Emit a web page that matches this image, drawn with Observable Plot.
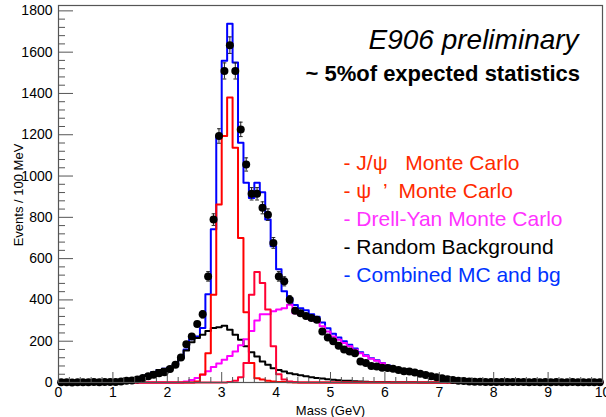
<!DOCTYPE html>
<html>
<head>
<meta charset="utf-8">
<script src="https://cdn.jsdelivr.net/npm/d3@7"></script>
<script src="https://cdn.jsdelivr.net/npm/@observablehq/plot@0.6"></script>
<style>
  body { margin: 0; background: #fff; }
  #chart svg { display: block; }
</style>
</head>
<body>
<div id="chart"></div>
<script>
// ---- Data: 100 bins of 100 MeV from 0 to 10 GeV ----
const binWidth = 0.1;

const dataCounts = [
  1,1,0,1,1,1,2,1,2,2,
  3,5,8,10,15,22,30,38,45,50,
  65,86,121,185,223,283,330,514,789,1194,
  1509,1634,1509,1226,1056,914,914,846,813,676,
  514,490,401,348,336,322,312,304,247,218,
  200,178,160,150,142,102,94,80,78,72,
  70,66,60,55,53,48,42,36,30,26,
  20,16,12,9,7,5,4,4,3,3,
  3,2,2,3,2,2,1,2,1,2,
  1,2,1,1,2,1,1,1,1,1
];

const dataErrors = [
  0,0,0,0,0,0,0,0,0,0,
  0,0,0,0,0,0,0,0,0,0,
  0,0,0,0,0,0,18,23,28,35,
  39,40,39,35,32,30,30,29,28,26,
  23,22,20,0,0,0,0,0,0,0,
  0,0,0,0,0,0,0,0,0,0,
  0,0,0,0,0,0,0,0,0,0,
  0,0,0,0,0,0,0,0,0,0,
  0,0,0,0,0,0,0,0,0,0,
  0,0,0,0,0,0,0,0,0,0
];

const jpsiMC = [
  null,null,null,null,null,0,0,0,0,0,
  0,0,0,0,0,0,0,0,0,0,
  0,0,0,0,0,5,39,142,425,862,
  1194,1380,1137,700,340,94,21,15,8,5,
  3,2,1,0,0,0,0,0,0,0,
  0,0,0,0,0,0,0,0,0,0,
  0,0,0,0,0,0,0,0,0,0,
  0,0,0,0,0,0,0,0,0,0,
  0,0,0,0,0,0,0,0,0,0,
  0,0,0,0,0,0,0,0,0,0
];

const psiPrimeMC = [
  null,null,null,null,null,0,0,0,0,0,
  0,0,0,0,0,0,0,0,0,0,
  0,0,0,0,0,0,0,0,0,0,
  0,2,8,25,94,425,535,482,353,175,
  40,15,5,2,0,0,0,0,0,0,
  0,0,0,0,0,0,0,0,0,0,
  0,0,0,0,0,0,0,0,0,0,
  0,0,0,0,0,0,0,0,0,0,
  0,0,0,0,0,0,0,0,0,0,
  0,0,0,0,0,0,0,0,0,0
];

const drellYanMC = [
  null,null,null,null,null,0,0,0,0,0,
  0,0,0,0,0,0,0,0,0,0,
  0,0,0,5,12,22,38,55,75,92,
  110,128,150,180,210,250,300,330,330,345,
  353,360,377,336,328,320,304,296,272,247,
  223,207,191,175,159,142,128,115,105,93,
  80,70,62,55,48,42,36,31,26,22,
  18,15,13,11,9,8,7,6,5,5,
  4,4,3,3,3,2,2,2,2,2,
  1,1,1,1,1,1,1,1,1,1
];

const randomBg = [
  0,0,0,0,0,0,0,0,0,0,
  3,6,10,14,20,28,38,50,60,67,
  73,88,118,155,195,215,231,250,264,268,
  275,255,231,207,175,147,126,102,86,69,
  60,53,45,40,35,30,26,22,19,16,
  13,11,9,8,6,5,4,3,3,2,
  2,1,1,1,1,1,0,0,0,0,
  0,0,0,0,0,0,0,0,0,0,
  0,0,0,0,0,0,0,0,0,0,
  0,0,0,0,0,0,0,0,0,0
];

const combinedMC = [
  0,0,0,0,0,0,0,0,0,0,
  3,6,10,14,20,28,38,50,60,67,
  73,88,120,160,210,223,264,427,742,1194,
  1558,1738,1550,1161,967,894,967,922,789,660,
  548,442,409,375,360,350,330,318,291,263,
  236,218,200,183,165,147,132,118,108,95,
  82,72,64,57,50,43,37,32,27,23,
  19,16,14,12,10,9,8,7,6,5,
  5,4,4,3,3,3,2,2,2,2,
  1,1,1,1,1,1,1,1,1,1
];

const xMajorTicks = [0,1,2,3,4,5,6,7,8,9,10];
const yMajorTicks = [0,200,400,600,800,1000,1200,1400,1600,1800];

const legendLabels = [
  "- J/\u03c8   Monte Carlo",
  "- \u03c8  \u2019  Monte Carlo",
  "- Drell-Yan Monte Carlo",
  "- Random Background",
  "- Combined MC and bg"
];
const legendColors = ["#ff2a00", "#ff2a00", "#ff33ff", "#000000", "#0033ff"];

const titleText = "E906 preliminary";
const subtitleText = "~ 5%of expected statistics";
const xLabel = "Mass (GeV)";
const yLabel = "Events / 100 MeV";

// ---- Helpers ----
const binLow = dataCounts.map((_, i) => +(i * binWidth).toFixed(2));
function steps(values) {
  const pts = [];
  values.forEach((v, i) => { if (v != null) pts.push({x: binLow[i], y: v}); });
  const last = pts[pts.length - 1];
  pts.push({x: +(last.x + binWidth).toFixed(2), y: last.y});
  return pts;
}
const points = dataCounts.map((v, i) => ({x: binLow[i] + binWidth / 2, y: v, e: dataErrors[i]}));
const errPoints = points.filter(d => d.e > 0);

const xMinorTicks = d3.range(0, 10.001, 0.2).map(v => +v.toFixed(1)).filter(v => !xMajorTicks.includes(v));
const yMinorTicks = d3.range(0, 1801, 40).filter(v => !yMajorTicks.includes(v));

const W = 606, H = 417;
const mL = 58, mR = 4, mT = 5, mB = 35;
const innerW = W - mL - mR, innerH = H - mT - mB;
const capHalf = 0.035;

const histStyle = {x: "x", y: "y", curve: "step-after", strokeWidth: 2};

const chart = Plot.plot({
  width: W, height: H,
  marginLeft: mL, marginRight: mR, marginTop: mT, marginBottom: mB,
  style: {fontFamily: "'Liberation Sans', Arial, sans-serif", fontSize: "14px", background: "#fff", color: "#000"},
  x: {domain: [0, 10]},
  y: {domain: [0, 1826]},
  marks: [
    // histograms
    Plot.line(steps(combinedMC), {...histStyle, stroke: "#0000ff"}),
    Plot.line(steps(randomBg), {...histStyle, stroke: "#000000"}),
    Plot.line(steps(drellYanMC), {...histStyle, stroke: "#ff00ff"}),
    Plot.line(steps(jpsiMC), {...histStyle, stroke: "#ff0000"}),
    Plot.line(steps(psiPrimeMC), {...histStyle, stroke: "#ff0033"}),
    // data error bars
    Plot.ruleX(errPoints, {x: "x", y1: d => d.y - d.e, y2: d => d.y + d.e, stroke: "#222", strokeWidth: 1}),
    Plot.link(errPoints, {x1: d => d.x - capHalf, x2: d => d.x + capHalf, y1: d => d.y + d.e, y2: d => d.y + d.e, stroke: "#222", strokeWidth: 1}),
    Plot.link(errPoints, {x1: d => d.x - capHalf, x2: d => d.x + capHalf, y1: d => d.y - d.e, y2: d => d.y - d.e, stroke: "#222", strokeWidth: 1}),
    // data points
    Plot.dot(points, {x: "x", y: "y", r: 4, fill: "#000", stroke: null}),
    // frame and ticks
    Plot.frame({stroke: "#555", strokeWidth: 1.2}),
    Plot.tickY(yMajorTicks, {y: d => d, insetRight: innerW - 15, stroke: "#555"}),
    Plot.tickY(yMinorTicks, {y: d => d, insetRight: innerW - 7, stroke: "#555"}),
    Plot.tickX(xMajorTicks, {x: d => d, insetTop: innerH - 10, stroke: "#555"}),
    Plot.tickX(xMinorTicks, {x: d => d, insetTop: innerH - 5, stroke: "#555"}),
    Plot.axisY({ticks: yMajorTicks, tickSize: 0, tickPadding: 6, fontSize: 14, label: null, tickFormat: d => String(d)}),
    Plot.axisX({ticks: xMajorTicks, tickSize: 0, tickPadding: 5, fontSize: 14, label: null, tickFormat: d => String(d)}),
    // axis titles
    Plot.text([yLabel], {frameAnchor: "left", dx: -40, dy: 1, rotate: -90, textAnchor: "middle", lineAnchor: "middle", fontSize: 13, fill: "#000"}),
    Plot.text([xLabel], {frameAnchor: "bottom", dy: 28, textAnchor: "middle", lineAnchor: "middle", fontSize: 13, fill: "#000"}),
    // annotations
    Plot.text([titleText], {frameAnchor: "top-left", dx: 310, dy: 35, textAnchor: "start", lineAnchor: "middle", fontSize: 28, fontStyle: "italic", fill: "#000"}),
    Plot.text([subtitleText], {frameAnchor: "top-left", dx: 247, dy: 68, textAnchor: "start", lineAnchor: "middle", fontSize: 22, fontWeight: "bold", fill: "#000"}),
    // legend
    ...legendLabels.map((lab, i) => Plot.text([lab], {
      frameAnchor: "top-left", dx: 285, dy: 158 + i * 28, textAnchor: "start", lineAnchor: "middle",
      fontSize: 21, fill: legendColors[i]
    }))
  ]
});
document.getElementById("chart").appendChild(chart);
</script>
</body>
</html>
